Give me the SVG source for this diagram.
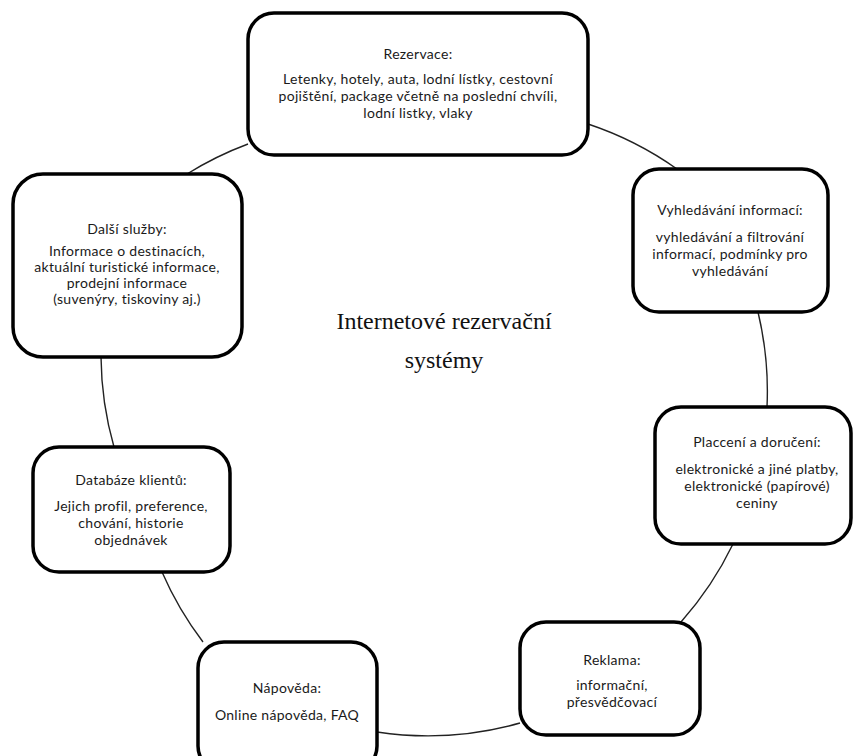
<svg xmlns="http://www.w3.org/2000/svg" width="853" height="756" viewBox="0 0 853 756">
<style>
.box{fill:#fff;stroke:#000;stroke-width:3.5}
.conn{fill:none;stroke:#222;stroke-width:1.4}
.t{font-family:Lato,"Liberation Sans",sans-serif;font-size:14px;letter-spacing:0.3px;fill:#1a1a1a;text-anchor:middle}
.c{font-family:"Liberation Serif","Times New Roman",serif;font-size:24px;fill:#111;text-anchor:middle}
</style>
<rect width="853" height="756" fill="#fff"/>
<g id="connectors">
<path class="conn" d="M187,174 A340,340 0 0 1 248,144"/>
<path class="conn" d="M588,124 A340,340 0 0 1 677,169"/>
<path class="conn" d="M758,312 A340,340 0 0 1 767,407"/>
<path class="conn" d="M733,544 A340,340 0 0 1 681,622"/>
<path class="conn" d="M520,723 A340,340 0 0 1 377,732"/>
<path class="conn" d="M203,642 A340,340 0 0 1 162,572"/>
<path class="conn" d="M114,447 A340,340 0 0 1 101,357"/>
</g>
<g id="rezervace">
<rect class="box" x="248" y="13" width="340" height="142" rx="26"/>
<text class="t" x="418" y="59">Rezervace:</text>
<text class="t" x="418" y="84">Letenky, hotely, auta, lodní lístky, cestovní</text>
<text class="t" x="418" y="101">pojištění, package včetně na poslední chvíli,</text>
<text class="t" x="418" y="118">lodní listky, vlaky</text>
</g>
<g id="vyhledavani">
<rect class="box" x="633" y="169" width="195" height="143" rx="26"/>
<text class="t" x="730" y="215">Vyhledávání informací:</text>
<text class="t" x="730" y="242">vyhledávání a filtrování</text>
<text class="t" x="730" y="259">informací, podmínky pro</text>
<text class="t" x="730" y="276">vyhledávání</text>
</g>
<g id="placceni">
<rect class="box" x="655" y="407" width="196" height="137" rx="26"/>
<text class="t" x="757" y="447">Placcení a doručení:</text>
<text class="t" x="757" y="474">elektronické a jiné platby,</text>
<text class="t" x="757" y="491">elektronické (papírové)</text>
<text class="t" x="757" y="508">ceniny</text>
</g>
<g id="reklama">
<rect class="box" x="520" y="622" width="180" height="113" rx="26"/>
<text class="t" x="612" y="665">Reklama:</text>
<text class="t" x="612" y="690">informační,</text>
<text class="t" x="612" y="707">přesvědčovací</text>
</g>
<g id="napoveda">
<rect class="box" x="198" y="642" width="179" height="130" rx="26"/>
<text class="t" x="287" y="693">Nápověda:</text>
<text class="t" x="287" y="720">Online nápověda,  FAQ</text>
</g>
<g id="databaze">
<rect class="box" x="33" y="447" width="197" height="125" rx="26"/>
<text class="t" x="131" y="485">Databáze klientů:</text>
<text class="t" x="131" y="511">Jejich profil, preference,</text>
<text class="t" x="131" y="528">chování, historie</text>
<text class="t" x="131" y="545">objednávek</text>
</g>
<g id="dalsi-sluzby">
<rect class="box" x="13" y="174" width="229" height="183" rx="30"/>
<text class="t" x="127" y="234">Další služby:</text>
<text class="t" x="127" y="256">Informace o destinacích,</text>
<text class="t" x="127" y="272">aktuální turistické informace,</text>
<text class="t" x="127" y="288">prodejní informace</text>
<text class="t" x="127" y="304">(suvenýry, tiskoviny aj.)</text>
</g>
<g id="center">
<text class="c" x="444" y="329">Internetové rezervační</text>
<text class="c" x="444" y="368">systémy</text>
</g>
</svg>
